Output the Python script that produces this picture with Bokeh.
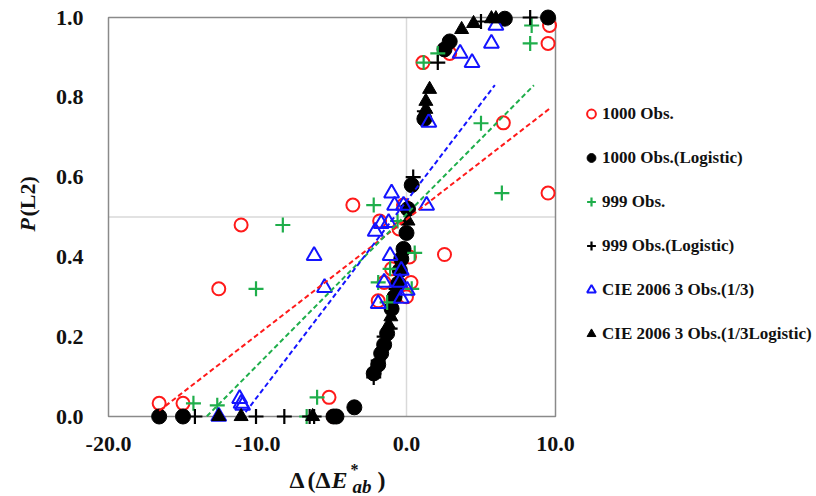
import math
from bokeh.plotting import figure
from bokeh.models import (Range1d, FixedTicker, PrintfTickFormatter, Label,
                          Legend, LegendItem)
from bokeh.embed import file_html
from bokeh.resources import INLINE

# ---------------- data ----------------
x_ticks = [-20, -10, 0, 10]
y_ticks = [0.0, 0.2, 0.4, 0.6, 0.8, 1.0]

obs1000_x = [-16.6, -15.0, -12.6, -11.1, -5.2, -4.9, -3.6, -1.9, -1.8, -1.5, -1.0, -0.5,
             -0.2, 0.0, 0.3, 0.2, 2.55, 1.1, 2.9, 6.5, 9.5, 9.5, 9.6]
obs1000_y = [0.033, 0.033, 0.32, 0.48, 0.048, 0.0, 0.53, 0.29, 0.49, 0.336, 0.37, 0.47,
             0.53, 0.30, 0.336, 0.40, 0.406, 0.887, 0.91, 0.736, 0.56, 0.935, 0.98]

log1000_x = [-16.6, -15.0, -4.9, -4.7, -3.5, -2.2, -1.9, -1.7, -1.5, -1.3, -1.0, -0.8,
             -0.55, -0.45, -0.35, -0.2, 0.0, 0.1, 0.35, 1.2, 2.55, 2.9, 6.6, 9.5]
log1000_y = [0.0, 0.0, 0.0, 0.0, 0.023, 0.108, 0.13, 0.158, 0.18, 0.208, 0.27, 0.30,
             0.333, 0.366, 0.395, 0.42, 0.46, 0.52, 0.58, 0.746, 0.92, 0.94, 0.997, 1.0]

obs999_x = [-14.3, -12.7, -10.1, -8.3, -6.7, -6.0, -2.2, -1.9, -1.3, -1.1, 0.35, 0.55,
            -0.6, 1.15, 2.1, 5.0, 6.4, 8.3, 8.4]
obs999_y = [0.033, 0.028, 0.32, 0.48, 0.0, 0.048, 0.53, 0.336, 0.286, 0.37, 0.32, 0.41,
            0.49, 0.887, 0.91, 0.735, 0.56, 0.935, 0.98]

log999_x = [-14.2, -10.1, -8.2, -6.5, -6.2, -2.2, -1.9, -1.5, -1.1, -0.7, 0.45, 1.2,
            2.1, 5.0, 8.3]
log999_y = [0.0, 0.0, 0.0, 0.0, 0.0, 0.098, 0.14, 0.2, 0.22, 0.32, 0.60, 0.765,
            0.887, 0.99, 1.0]

cie_x = [-12.6, -11.2, -11.1, -11.0, -6.2, -5.5, -2.1, -1.7, -1.2, -1.1, -0.35, -1.5,
         -0.45, 0.05, -0.35, -1.9, 1.35, -0.2, -0.8, -1.0, 1.5, 3.6, 4.4, 5.7, 6.0]
cie_y = [0.0, 0.045, 0.033, 0.028, 0.403, 0.323, 0.464, 0.483, 0.486, 0.403, 0.366, 0.336,
         0.336, 0.316, 0.296, 0.283, 0.529, 0.529, 0.529, 0.56, 0.737, 0.91, 0.887, 0.935, 0.98]

logcie_x = [-12.6, -11.1, -6.3, -1.2, -1.05, 0.1, 1.3, 1.3, 1.55, 3.7, 4.5, 5.7, 6.0]
logcie_y = [0.0, 0.0, 0.0, 0.23, 0.25, 0.49, 0.77, 0.79, 0.82, 0.97, 0.985, 0.997, 0.997]

# linear trend lines (slope, intercept, x extent)
fit_slope = [0.0289, 0.0378, 0.049]
fit_intercept = [0.494, 0.507, 0.54]
fit_x0 = [-16.6, -13.4, -10.8]
fit_x1 = [9.6, 8.55, 5.93]

legend_labels = ["1000 Obs.", "1000 Obs.(Logistic)", "999 Obs.", "999 Obs.(Logistic)",
                 "CIE 2006 3 Obs.(1/3)", "CIE 2006 3 Obs.(1/3Logistic)"]

X_LO, X_HI = -20, 10
Y_LO, Y_HI = 0, 1

RED = "#ff1a1a"
GREEN = "#1fae4b"
BLUE = "#1414ff"
BLACK = "#000000"
FONT = "Liberation Serif"

# ---------------- layout geometry (pixels) ----------------
W, H = 816, 496
BOX_L, BOX_R, BOX_T, BOX_B = 108, 555, 17, 416
kx = (BOX_R - BOX_L) / (X_HI - X_LO)
ky = (BOX_B - BOX_T) / (Y_HI - Y_LO)
x_range = Range1d(X_LO - BOX_L / kx, X_HI + (W - BOX_R) / kx)
y_range = Range1d(Y_LO - (H - BOX_B) / ky, Y_HI + BOX_T / ky)

p = figure(width=W, height=H, frame_width=W, frame_height=H,
           min_border=0, min_border_left=0, min_border_right=0,
           min_border_top=0, min_border_bottom=0,
           x_range=x_range, y_range=y_range,
           output_backend="svg", toolbar_location=None)
p.outline_line_color = None
p.xgrid.visible = False
p.ygrid.visible = False
p.background_fill_color = "white"
p.border_fill_color = "white"

for ax in (p.xaxis[0], p.yaxis[0]):
    ax.axis_line_color = None
    ax.major_tick_line_color = None
    ax.minor_tick_line_color = None
    ax.major_tick_out = 0
    ax.major_tick_in = 0
    ax.major_label_text_font = FONT
    ax.major_label_text_font_style = "bold"
    ax.major_label_text_color = "#111111"
    ax.formatter = PrintfTickFormatter(format="%.1f")

p.xaxis.major_label_text_font_size = "22px"
p.yaxis.major_label_text_font_size = "22px"
p.xaxis.ticker = FixedTicker(ticks=x_ticks)
p.yaxis.ticker = FixedTicker(ticks=y_ticks)
p.xaxis.fixed_location = Y_LO
p.yaxis.fixed_location = X_LO
p.xaxis.major_label_standoff = 20
p.yaxis.major_label_standoff = 25

# reference lines and plot box
p.segment(x0=[0, X_LO], y0=[Y_LO, 0.5], x1=[0, X_HI], y1=[Y_HI, 0.5],
          line_color="#d9d9d9", line_width=1.5)
p.quad(left=[X_LO], right=[X_HI], bottom=[Y_LO], top=[Y_HI],
       fill_color=None, line_color="#8a8a8a", line_width=1.5)

r1 = p.scatter(obs1000_x, obs1000_y, marker="circle", size=13, fill_color=None,
               line_color=RED, line_width=2)
r2 = p.scatter(log1000_x, log1000_y, marker="circle", size=15, fill_color=BLACK,
               line_color=BLACK, line_width=1)
r3 = p.scatter(obs999_x, obs999_y, marker="cross", size=15, line_color=GREEN, line_width=2.2)
r4 = p.scatter(log999_x, log999_y, marker="cross", size=15, line_color=BLACK, line_width=2.2)
r5 = p.scatter(cie_x, cie_y, marker="triangle", size=15, fill_color=None,
               line_color=BLUE, line_width=2)
r6 = p.scatter(logcie_x, logcie_y, marker="triangle", size=14, fill_color=BLACK,
               line_color=BLACK, line_width=1)

fit_colors = [RED, GREEN, BLUE]
for s, b, xa, xb, c in zip(fit_slope, fit_intercept, fit_x0, fit_x1, fit_colors):
    p.line([xa, xb], [s * xa + b, s * xb + b], line_color=c, line_width=2,
           line_dash="5 3")

legend = Legend(items=[LegendItem(label=l, renderers=[r])
                       for l, r in zip(legend_labels, [r1, r2, r3, r4, r5, r6])],
                location=(580, 150), orientation="vertical",
                glyph_width=22, glyph_height=25, label_height=25, spacing=19,
                label_standoff=0, padding=0, margin=0,
                border_line_color=None, background_fill_alpha=0,
                label_text_font=FONT, label_text_font_style="bold",
                label_text_font_size="17px", label_text_color="#111111")
p.add_layout(legend, "center")

# axis titles (positions: baseline start in screen pixels from the top-left corner)
def lab(text, sx, sy, size, style="bold", angle=0.0):
    shift = 0.39 * size          # compensation for the renderer's baseline offset
    if angle:
        sx = sx - shift
    else:
        sy = sy - shift
    p.add_layout(Label(x=sx, y=H - sy, x_units="screen", y_units="screen", text=text,
                       text_font=FONT, text_font_style=style,
                       text_font_size=f"{size}px",
                       text_color="#111111", text_baseline="alphabetic",
                       text_align="left", angle=angle))

lab("\u0394", 289, 489, 24)
lab("(", 307, 489, 24)
lab("\u0394", 315, 489, 24)
lab("E", 331, 489, 24, "bold italic")
lab("*", 350, 475, 16)
lab("ab", 352, 493, 19, "bold italic")
lab(")", 377, 489, 24)

lab("P", 36, 231, 22, "bold italic", math.pi / 2)
lab("(L2)", 36, 216, 22, "bold", math.pi / 2)

open("out.html", "w").write(file_html(p, INLINE))
